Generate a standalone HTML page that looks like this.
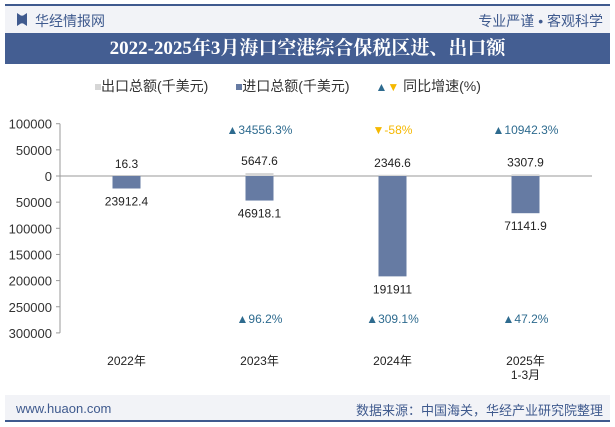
<!DOCTYPE html>
<html><head><meta charset="utf-8"><style>
body{margin:0;width:615px;height:427px;background:#fff;font-family:"Liberation Sans","Noto Sans CJK SC",sans-serif;overflow:hidden;position:relative}
div{position:absolute}
</style></head><body>
<div style="left:5px;top:4px;width:605px;height:2px;background:#3f5a8e"></div>
<div style="left:5px;top:6px;width:605px;height:27px;background:#f2f3f7"></div>
<div style="left:17px;top:13px;width:10px;height:13px;background:#3f5a8e;clip-path:polygon(0 0,40% 20%,60% 20%,100% 0,100% 100%,60% 80%,40% 80%,0 100%)"></div>
<div style="left:35px;top:11px;font-size:14px;color:#3f5a8e">华经情报网</div>
<div style="right:12px;top:11px;font-size:14px;color:#3f5a8e">专业严谨 • 客观科学</div>
<div style="left:5px;top:33px;width:605px;height:31px;background:#445e92;color:#fff;font-size:19px;font-weight:bold;text-align:center;line-height:31px;font-family:'Liberation Serif','Noto Serif CJK SC',serif">2022-2025年3月海口空港综合保税区进、出口额</div>
<div style="left:95px;top:76px;font-size:14px;color:#333;white-space:nowrap">
<span style="display:inline-block;width:6px;height:6px;background:#d6d6d6;vertical-align:middle"></span>出口总额(千美元)　
<span style="display:inline-block;width:6px;height:6px;background:#667ba3;vertical-align:middle;margin-left:10px"></span>进口总额(千美元)　
<span style="color:#2e6b8f;font-size:12px;margin-left:8px">▲</span><span style="color:#f5b800;font-size:12px">▼</span> 同比增速(%)</div>
<svg id="c" width="615" height="427" style="position:absolute;left:0;top:0"></svg>
<div style="left:5px;top:395px;width:605px;height:25px;background:#f2f3f7"></div>
<div style="left:5px;top:420px;width:605px;height:2px;background:#3f5a8e"></div>
<div style="left:16px;top:401px;font-size:13px;color:#3f5a8e">www.huaon.com</div>
<div style="right:12px;top:400px;font-size:13px;color:#3f5a8e">数据来源：中国海关，华经产业研究院整理</div>
<script>
const categories=["2022年","2023年","2024年","2025年\n1-3月"];
const exportVals=[16.3,5647.6,2346.6,3307.9];
const importVals=[23912.4,46918.1,191911,71141.9];
const exportGrowth=[null,"34556.3%","-58%","10942.3%"];
const importGrowth=[null,"96.2%","309.1%","47.2%"];
const yTicks=[100000,50000,0,-50000,-100000,-150000,-200000,-250000,-300000];
const svg=document.getElementById('c');const NS='http://www.w3.org/2000/svg';
const y=v=>176-v*52.3/100000;const x0=60,bw=133;const cx=i=>x0+bw*(i+0.5);
function el(t,a,txt){const e=document.createElementNS(NS,t);for(const k in a)e.setAttribute(k,a[k]);if(txt!=null)e.textContent=txt;svg.appendChild(e);return e;}
let ax=el('line',{x1:x0,x2:x0,y1:y(100000),y2:y(-300000),stroke:'#999'});
yTicks.forEach(t=>{let l=el('line',{x1:x0-4,x2:x0,y1:y(t),y2:y(t),stroke:'#999'});
let tx=el('text',{x:x0-8,y:y(t)+5,'text-anchor':'end','font-size':13,fill:'#333'},Math.abs(t));});
let za=el('line',{x1:x0,x2:x0+bw*4,y1:y(0),y2:y(0),stroke:'#999'});
categories.forEach((c,i)=>{
 let b=el('rect',{x:cx(i)-14,y:y(0),width:28,height:y(-importVals[i])-y(0),fill:'#667ba3'});
 let e=el('rect',{x:cx(i)-14,y:y(exportVals[i]),width:28,height:y(0)-y(exportVals[i]),fill:'#d6d6d6'});
 let t1=el('text',{x:cx(i),y:y(exportVals[i])-8,'text-anchor':'middle','font-size':12,fill:'#222'},exportVals[i]);
 let t2=el('text',{x:cx(i),y:y(-importVals[i])+17,'text-anchor':'middle','font-size':12,fill:'#222'},importVals[i]);
 c.split('\n').forEach((s,k)=>{let t=el('text',{x:cx(i),y:365+k*14,'text-anchor':'middle','font-size':12,fill:'#222'},s);});
 if(exportGrowth[i]){const neg=exportGrowth[i][0]=='-';let g=el('text',{x:cx(i),y:134,'text-anchor':'middle','font-size':12,fill:neg?'#f5b800':'#2e6b8f'},(neg?'▼':'▲')+exportGrowth[i]);}
 if(importGrowth[i]){let g=el('text',{x:cx(i),y:323,'text-anchor':'middle','font-size':12,fill:'#2e6b8f'},'▲'+importGrowth[i]);}
});
</script>
</body></html>
